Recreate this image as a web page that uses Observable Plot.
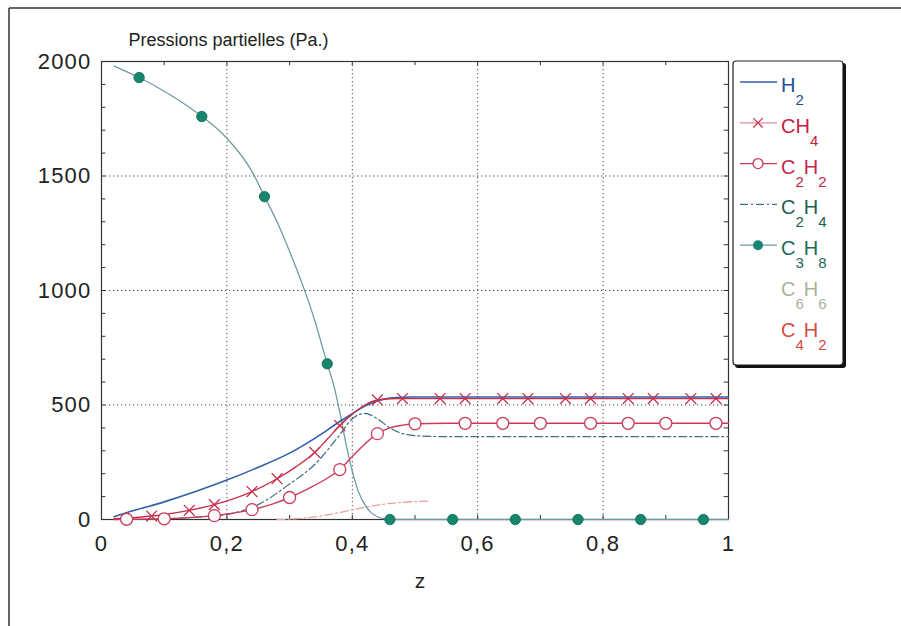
<!DOCTYPE html>
<html>
<head>
<meta charset="utf-8">
<script src="https://cdn.jsdelivr.net/npm/d3@7"></script>
<script src="https://cdn.jsdelivr.net/npm/@observablehq/plot@0.6"></script>
<style>
  html, body { margin: 0; padding: 0; background: #ffffff; }
  #chart { position: relative; width: 901px; height: 626px; }
</style>
</head>
<body>
<div id="chart"></div>
<script>
// ---- Data ----
const zH2 = [0.02, 0.05, 0.1, 0.15, 0.2, 0.25, 0.3, 0.35, 0.38, 0.4, 0.42, 0.44, 0.46, 0.5, 0.6, 0.8, 1.0];
const vH2 = [12, 38, 77, 122, 172, 228, 290, 372, 428, 462, 495, 518, 530, 535, 535, 535, 535];

const zCH4 = [0.02, 0.05, 0.08, 0.1, 0.14, 0.18, 0.21, 0.24, 0.28, 0.31, 0.34, 0.36, 0.38, 0.4, 0.42, 0.44, 0.46, 0.48, 0.5, 1.0];
const vCH4 = [3, 8, 15, 22, 40, 65, 90, 122, 178, 230, 293, 350, 410, 460, 500, 522, 527, 528, 528, 528];
const zCH4m = [0.08, 0.14, 0.18, 0.24, 0.28, 0.34, 0.38, 0.44, 0.48, 0.54, 0.58, 0.64, 0.68, 0.74, 0.78, 0.84, 0.88, 0.94, 0.98];
const vCH4m = [15, 40, 65, 122, 178, 293, 410, 522, 528, 528, 528, 528, 528, 528, 528, 528, 528, 528, 528];

const zC2H2 = [0.02, 0.04, 0.1, 0.14, 0.18, 0.21, 0.24, 0.27, 0.3, 0.33, 0.36, 0.38, 0.4, 0.42, 0.44, 0.46, 0.48, 0.5, 0.55, 1.0];
const vC2H2 = [0, 1, 3, 8, 17, 28, 43, 65, 96, 135, 180, 218, 275, 330, 375, 400, 412, 418, 420, 420];
const zC2H2m = [0.04, 0.1, 0.18, 0.24, 0.3, 0.38, 0.44, 0.5, 0.58, 0.64, 0.7, 0.78, 0.84, 0.9, 0.98];
const vC2H2m = [1, 3, 17, 43, 96, 218, 375, 418, 420, 420, 420, 420, 420, 420, 420];

const zC2H4 = [0.02, 0.1, 0.15, 0.2, 0.25, 0.3, 0.34, 0.38, 0.4, 0.42, 0.44, 0.46, 0.48, 0.5, 0.55, 1.0];
const vC2H4 = [0, 3, 10, 22, 65, 155, 240, 370, 440, 463, 440, 400, 375, 366, 362, 362];

const zC3H8 = [0.02, 0.06, 0.1, 0.14, 0.16, 0.2, 0.24, 0.26, 0.28, 0.3, 0.32, 0.34, 0.36, 0.37, 0.38, 0.39, 0.4, 0.41, 0.42, 0.43, 0.44, 0.46, 1.0];
const vC3H8 = [1980, 1930, 1870, 1800, 1760, 1665, 1520, 1410, 1300, 1170, 1030, 870, 680, 590, 470, 330, 210, 120, 65, 30, 12, 0, 0];
const zC3H8m = [0.06, 0.16, 0.26, 0.36, 0.46, 0.56, 0.66, 0.76, 0.86, 0.96];
const vC3H8m = [1930, 1760, 1410, 680, 0, 0, 0, 0, 0, 0];

const zC4H2 = [0.28, 0.32, 0.36, 0.4, 0.44, 0.48, 0.52];
const vC4H2 = [0, 5, 20, 42, 63, 75, 80];

const xTicks = [0, 0.2, 0.4, 0.6, 0.8, 1];
const xTickLabels = ["0", "0,2", "0,4", "0,6", "0,8", "1"];
const yTicks = [0, 500, 1000, 1500, 2000];
const gridX = [0.2, 0.4, 0.6, 0.8];
const gridY = [500, 1000, 1500];
const minorX = [0.1, 0.2, 0.3, 0.4, 0.5, 0.6, 0.7, 0.8, 0.9];
const minorY = [100, 200, 300, 400, 500, 600, 700, 800, 900, 1000, 1100, 1200, 1300, 1400, 1500, 1600, 1700, 1800, 1900];

const legendLabels = [["H","2"], ["CH","4"], ["C","2","H","2"], ["C","2","H","4"], ["C","3","H","8"], ["C","6","H","6"], ["C","4","H","2"]];
const legendColors = ["#1d4f9c", "#c4203f", "#c4264e", "#1d5e4e", "#1d6a58", "#a7b39a", "#d24a42"];

const title = "Pressions partielles (Pa.)";
const xLabel = "z";

// ---- Helpers ----
const rows = (zs, vs) => zs.map((z, i) => ({z, v: vs[i]}));

const cH2 = "#2f5fa8", cCH4 = "#c8304c", cC2H2 = "#cc3a5a", cC2H4 = "#3f6f80", cC3H8line = "#6f9aa8", cC3H8dot = "#17866e", cC4H2 = "#eaa3a3";
const FONT = "'Liberation Sans', Arial, sans-serif";

const chart = Plot.plot({
  width: 901,
  height: 626,
  marginLeft: 101,
  marginRight: 173,
  marginTop: 61,
  marginBottom: 107,
  style: {fontFamily: FONT, background: "white", color: "#222"},
  x: {domain: [0, 1]},
  y: {domain: [0, 2000]},
  marks: [
    Plot.ruleX(gridX, {stroke: "#444", strokeDasharray: "1.2,2.8", strokeWidth: 1}),
    Plot.ruleY(gridY, {stroke: "#444", strokeDasharray: "1.2,2.8", strokeWidth: 1}),
    Plot.ruleX(minorX, {y1: 0, y2: 18, stroke: "#333"}),
    Plot.ruleX(minorX, {y1: 2000, y2: 1982, stroke: "#333"}),
    Plot.ruleY(minorY, {x1: 0, x2: 0.007, stroke: "#333"}),
    Plot.ruleY(minorY, {x1: 1, x2: 0.993, stroke: "#333"}),
    Plot.frame({stroke: "#333", strokeWidth: 1.2}),
    Plot.axisY({ticks: yTicks, tickSize: 0, tickPadding: 10, fontSize: 22, label: null, tickFormat: d => String(d)}),
    Plot.axisX({ticks: xTicks, tickSize: 0, tickPadding: 16, fontSize: 22, label: null, tickFormat: d => xTickLabels[xTicks.indexOf(d)]}),
    Plot.line(rows(zC4H2, vC4H2), {x: "z", y: "v", stroke: cC4H2, strokeWidth: 1.3, strokeDasharray: "8,3,2,3", curve: "monotone-x"}),
    Plot.line(rows(zC3H8, vC3H8), {x: "z", y: "v", stroke: cC3H8line, strokeWidth: 1.3, curve: "monotone-x"}),
    Plot.line(rows(zC2H4, vC2H4), {x: "z", y: "v", stroke: cC2H4, strokeWidth: 1.2, strokeDasharray: "8,3,2,3", curve: "monotone-x"}),
    Plot.line(rows(zH2, vH2), {x: "z", y: "v", stroke: cH2, strokeWidth: 1.6, curve: "monotone-x"}),
    Plot.line(rows(zCH4, vCH4), {x: "z", y: "v", stroke: cCH4, strokeWidth: 1.4, curve: "monotone-x"}),
    Plot.line(rows(zC2H2, vC2H2), {x: "z", y: "v", stroke: cC2H2, strokeWidth: 1.4, curve: "monotone-x"}),
    Plot.dot(rows(zCH4m, vCH4m), {x: "z", y: "v", symbol: "times", r: 5, stroke: cCH4, strokeWidth: 1.3}),
    Plot.dot(rows(zC2H2m, vC2H2m), {x: "z", y: "v", r: 6, stroke: cC2H2, fill: "white", strokeWidth: 1.3}),
    Plot.dot(rows(zC3H8m, vC3H8m), {x: "z", y: "v", r: 5.2, fill: cC3H8dot, stroke: "#0f6a55", strokeWidth: 0.8}),
    Plot.text([title], {frameAnchor: "top-left", dx: 27, dy: -28, fontSize: 18, textAnchor: "start", fill: "#222"}),
    Plot.text([xLabel], {frameAnchor: "bottom", dx: 5, dy: 68, fontSize: 21, fill: "#222"})
  ]
});

document.getElementById("chart").appendChild(chart);

// Wider tick labels as in the reference
d3.select(chart).selectAll("g[aria-label='y-axis tick label'] text, g[aria-label='x-axis tick label'] text")
  .attr("letter-spacing", "1.2px");

// ---- Outer frame and legend (drawn into the same SVG with d3) ----
const svg = d3.select(chart);
svg.append("line").attr("x1", 9).attr("y1", 8).attr("x2", 9).attr("y2", 626).attr("stroke", "#333").attr("stroke-width", 1.5);
svg.append("line").attr("x1", 9).attr("y1", 8).attr("x2", 901).attr("y2", 8).attr("stroke", "#333").attr("stroke-width", 1.5);

const lg = svg.append("g").attr("text-anchor", "start");
lg.append("rect").attr("x", 735).attr("y", 63).attr("width", 111).attr("height", 305).attr("rx", 3).attr("fill", "#111");
lg.append("rect").attr("x", 733).attr("y", 61).attr("width", 110).attr("height", 304).attr("rx", 3).attr("fill", "white").attr("stroke", "#222").attr("stroke-width", 1.2);

const rowTop = i => 78 + 40.8 * i;
const sampleX1 = 740, sampleX2 = 777, sampleMid = 758;

// samples
const samp = (i, color, dash, width) => lg.append("line").attr("x1", sampleX1).attr("x2", sampleX2)
  .attr("y1", rowTop(i) + 4).attr("y2", rowTop(i) + 4).attr("stroke", color).attr("stroke-width", width).attr("stroke-dasharray", dash);
samp(0, cH2, null, 1.6);
samp(1, "#e08a9c", null, 1.2);
lg.append("path").attr("transform", `translate(${sampleMid},${rowTop(1) + 4})`).attr("d", d3.symbol(d3.symbolTimes, 60)()).attr("stroke", cCH4).attr("fill", "none").attr("stroke-width", 1.2);
samp(2, cC2H2, null, 1.3);
lg.append("circle").attr("cx", sampleMid).attr("cy", rowTop(2) + 4).attr("r", 5).attr("fill", "white").attr("stroke", cC2H2).attr("stroke-width", 1.3);
samp(3, cC2H4, "8,3,2,3", 1.2);
samp(4, cC3H8line, null, 1.3);
lg.append("circle").attr("cx", sampleMid).attr("cy", rowTop(4) + 4).attr("r", 5).attr("fill", cC3H8dot);

legendLabels.forEach((parts, i) => {
  const t = lg.append("text").attr("x", 781).attr("y", rowTop(i) + 14)
    .attr("text-anchor", "start")
    .attr("fill", legendColors[i]).attr("font-size", 20)
    .attr("font-family", FONT);
  parts.forEach((p, j) => {
    const isSub = j % 2 === 1;
    t.append("tspan").text(p)
      .attr("font-size", isSub ? 15 : 20)
      .attr("dy", j === 0 ? 0 : (isSub ? 13 : -13));
  });
});
</script>
</body>
</html>
